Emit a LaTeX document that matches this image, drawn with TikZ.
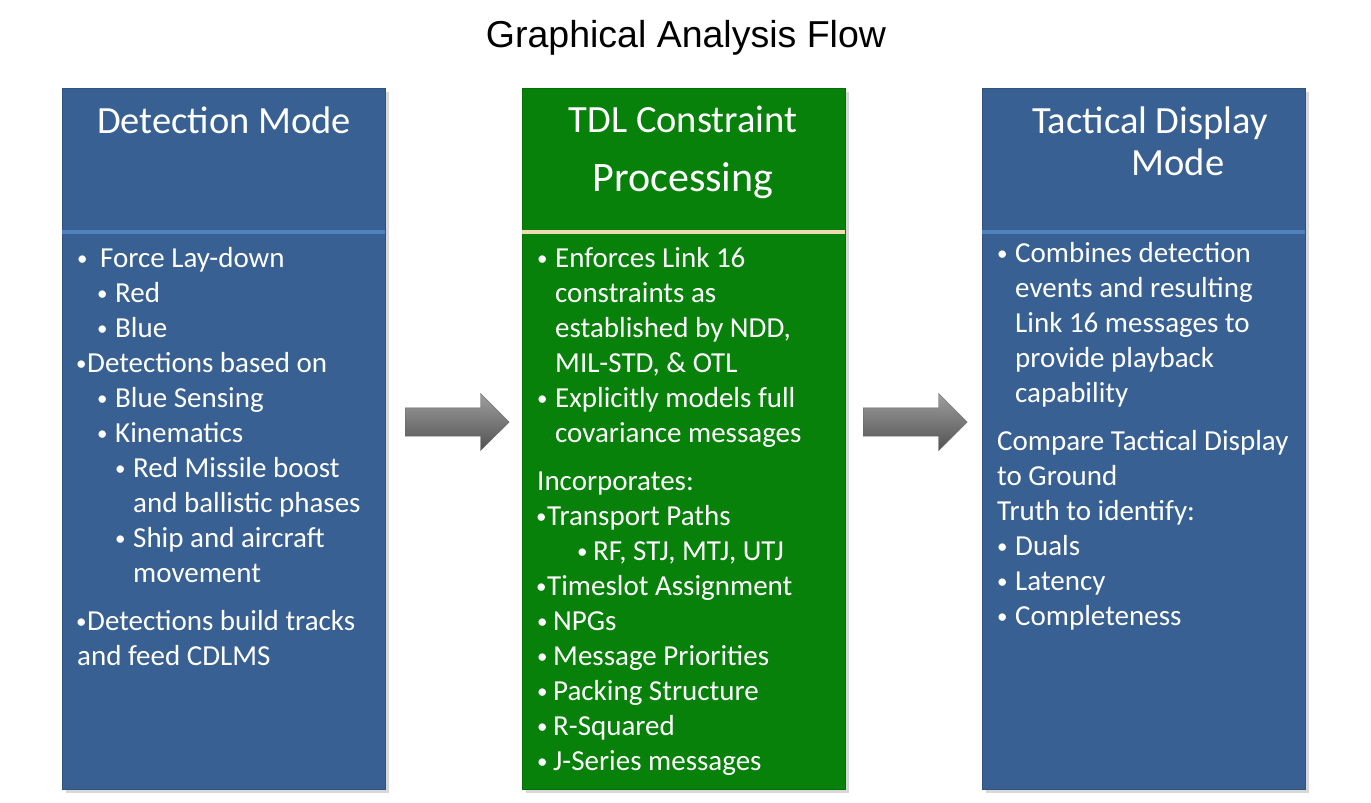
\documentclass[tikz,border=0pt]{standalone}
\usepackage{fontspec}
\setmainfont{Carlito}
\newfontfamily\headfont{Liberation Sans}
\usetikzlibrary{shapes.arrows,shadows}

\definecolor{boxblue}{HTML}{386092}
\definecolor{rulblue}{HTML}{4F81BD}
\definecolor{boxgreen}{HTML}{07810A}
\definecolor{rulcream}{HTML}{EEDCB0}

\tikzset{
  panel/.style={draw=#1!85!black, fill=#1, anchor=north west, inner sep=0,
    minimum width=323, minimum height=701,
    drop shadow={opacity=0.3, shadow xshift=4pt, shadow yshift=-4pt}},
  ttl/.style={text=white, anchor=base, inner sep=0, font=\fontsize{38.5}{44}\selectfont},
  txt/.style={text=white, anchor=base west, inner sep=0, font=\fontsize{29}{35}\selectfont},
  bul/.style={text=white, anchor=base west, inner sep=0, yshift=2pt, font=\fontsize{21}{21}\selectfont},
  bigarrow/.style={single arrow, anchor=west, inner xsep=0, inner ysep=14pt, minimum height=104,
    single arrow head extend=14.5pt, draw=black!60,
    top color=black!38, middle color=black!22, bottom color=black!68}
}

\begin{document}
\begin{tikzpicture}[x=1pt, y=-1pt]
    \useasboundingbox (0, 0) rectangle (1371, 803);
    \fill [white] (0, 0) rectangle (1371, 803);

    \node (head) [anchor=base, inner sep=0, font=\headfont\fontsize{37.5}{44}\selectfont] at (686, 47) {Graphical Analysis Flow};

    \node (det) [panel=boxblue] at (62, 88) {};
    \node (tdl) [panel=boxgreen] at (522, 88) {};
    \node (tac) [panel=boxblue] at (982, 88) {};

    \draw [rulblue, line width=4] (62, 232) -- (385, 232);
    \draw [rulcream, line width=4] (522, 232) -- (845, 232);
    \draw [rulblue, line width=4] (982, 232) -- (1305, 232);

    \node (detT) [ttl] at (224, 133) {Detection Mode};
    \node (tdlT) [ttl] at (683, 132) {TDL Constraint};
    \node (tdlP) [ttl, font=\fontsize{42}{48}\selectfont] at (683, 191) {Processing};
    \node (tacT) [ttl] at (1150, 133) {Tactical Display};
    \node (tacM) [ttl] at (1178, 175) {Mode};

    % Detection Mode
    \foreach \x/\y/\t [count=\i] in {100/267/{Force Lay-down}, 115/302/Red, 115/337/Blue,
        87/372/{Detections based on}, 115/407/{Blue Sensing}, 115/442/Kinematics,
        133/477/{Red Missile boost}, 133/512/{and ballistic phases}, 133/547/{Ship and aircraft},
        133/582/movement, 87/630/{Detections build tracks}, 77/665/{and feed CDLMS}}
        \node (dl\i) [txt] at (\x, \y) {\t};
    \foreach \x/\y [count=\i] in {77/267, 97/302, 97/337, 76/372, 97/407, 97/442, 115/477, 115/547, 76/630}
        \node (db\i) [bul] at (\x, \y) {\textbullet};

    % TDL Constraint Processing
    \foreach \x/\y/\t [count=\i] in {555/267/{Enforces Link 16}, 555/302/{constraints as},
        555/337/{established by NDD,}, 555/372/{MIL-STD, \& OTL}, 555/407/{Explicitly models full},
        555/442/{covariance messages}, 537/490/{Incorporates:}, 547/525/{Transport Paths},
        593/560/{RF, STJ, MTJ, UTJ}, 547/595/{Timeslot Assignment}, 553/630/NPGs,
        553/665/{Message Priorities}, 553/700/{Packing Structure}, 553/735/R-Squared,
        553/770/{J-Series messages}}
        \node (pl\i) [txt] at (\x, \y) {\t};
    \foreach \x/\y [count=\i] in {537/267, 537/407, 536/525, 577/560, 536/595, 537/630, 537/665, 537/700, 537/735, 537/770}
        \node (pb\i) [bul] at (\x, \y) {\textbullet};

    % Tactical Display Mode
    \foreach \x/\y/\t [count=\i] in {1015/262/{Combines detection}, 1015/297/{events and resulting},
        1015/332/{Link 16 messages to}, 1015/367/{provide playback}, 1015/402/capability,
        997/450/{Compare Tactical Display}, 997/485/{to Ground}, 997/520/{Truth to identify:},
        1015/555/Duals, 1015/590/Latency, 1015/625/Completeness}
        \node (tl\i) [txt] at (\x, \y) {\t};
    \foreach \x/\y [count=\i] in {997/262, 997/555, 997/590, 997/625}
        \node (tb\i) [bul] at (\x, \y) {\textbullet};

    \node (a1) [bigarrow] at (405, 422) {};
    \node (a2) [bigarrow] at (863, 422) {};
  \end{tikzpicture}
\end{document}
